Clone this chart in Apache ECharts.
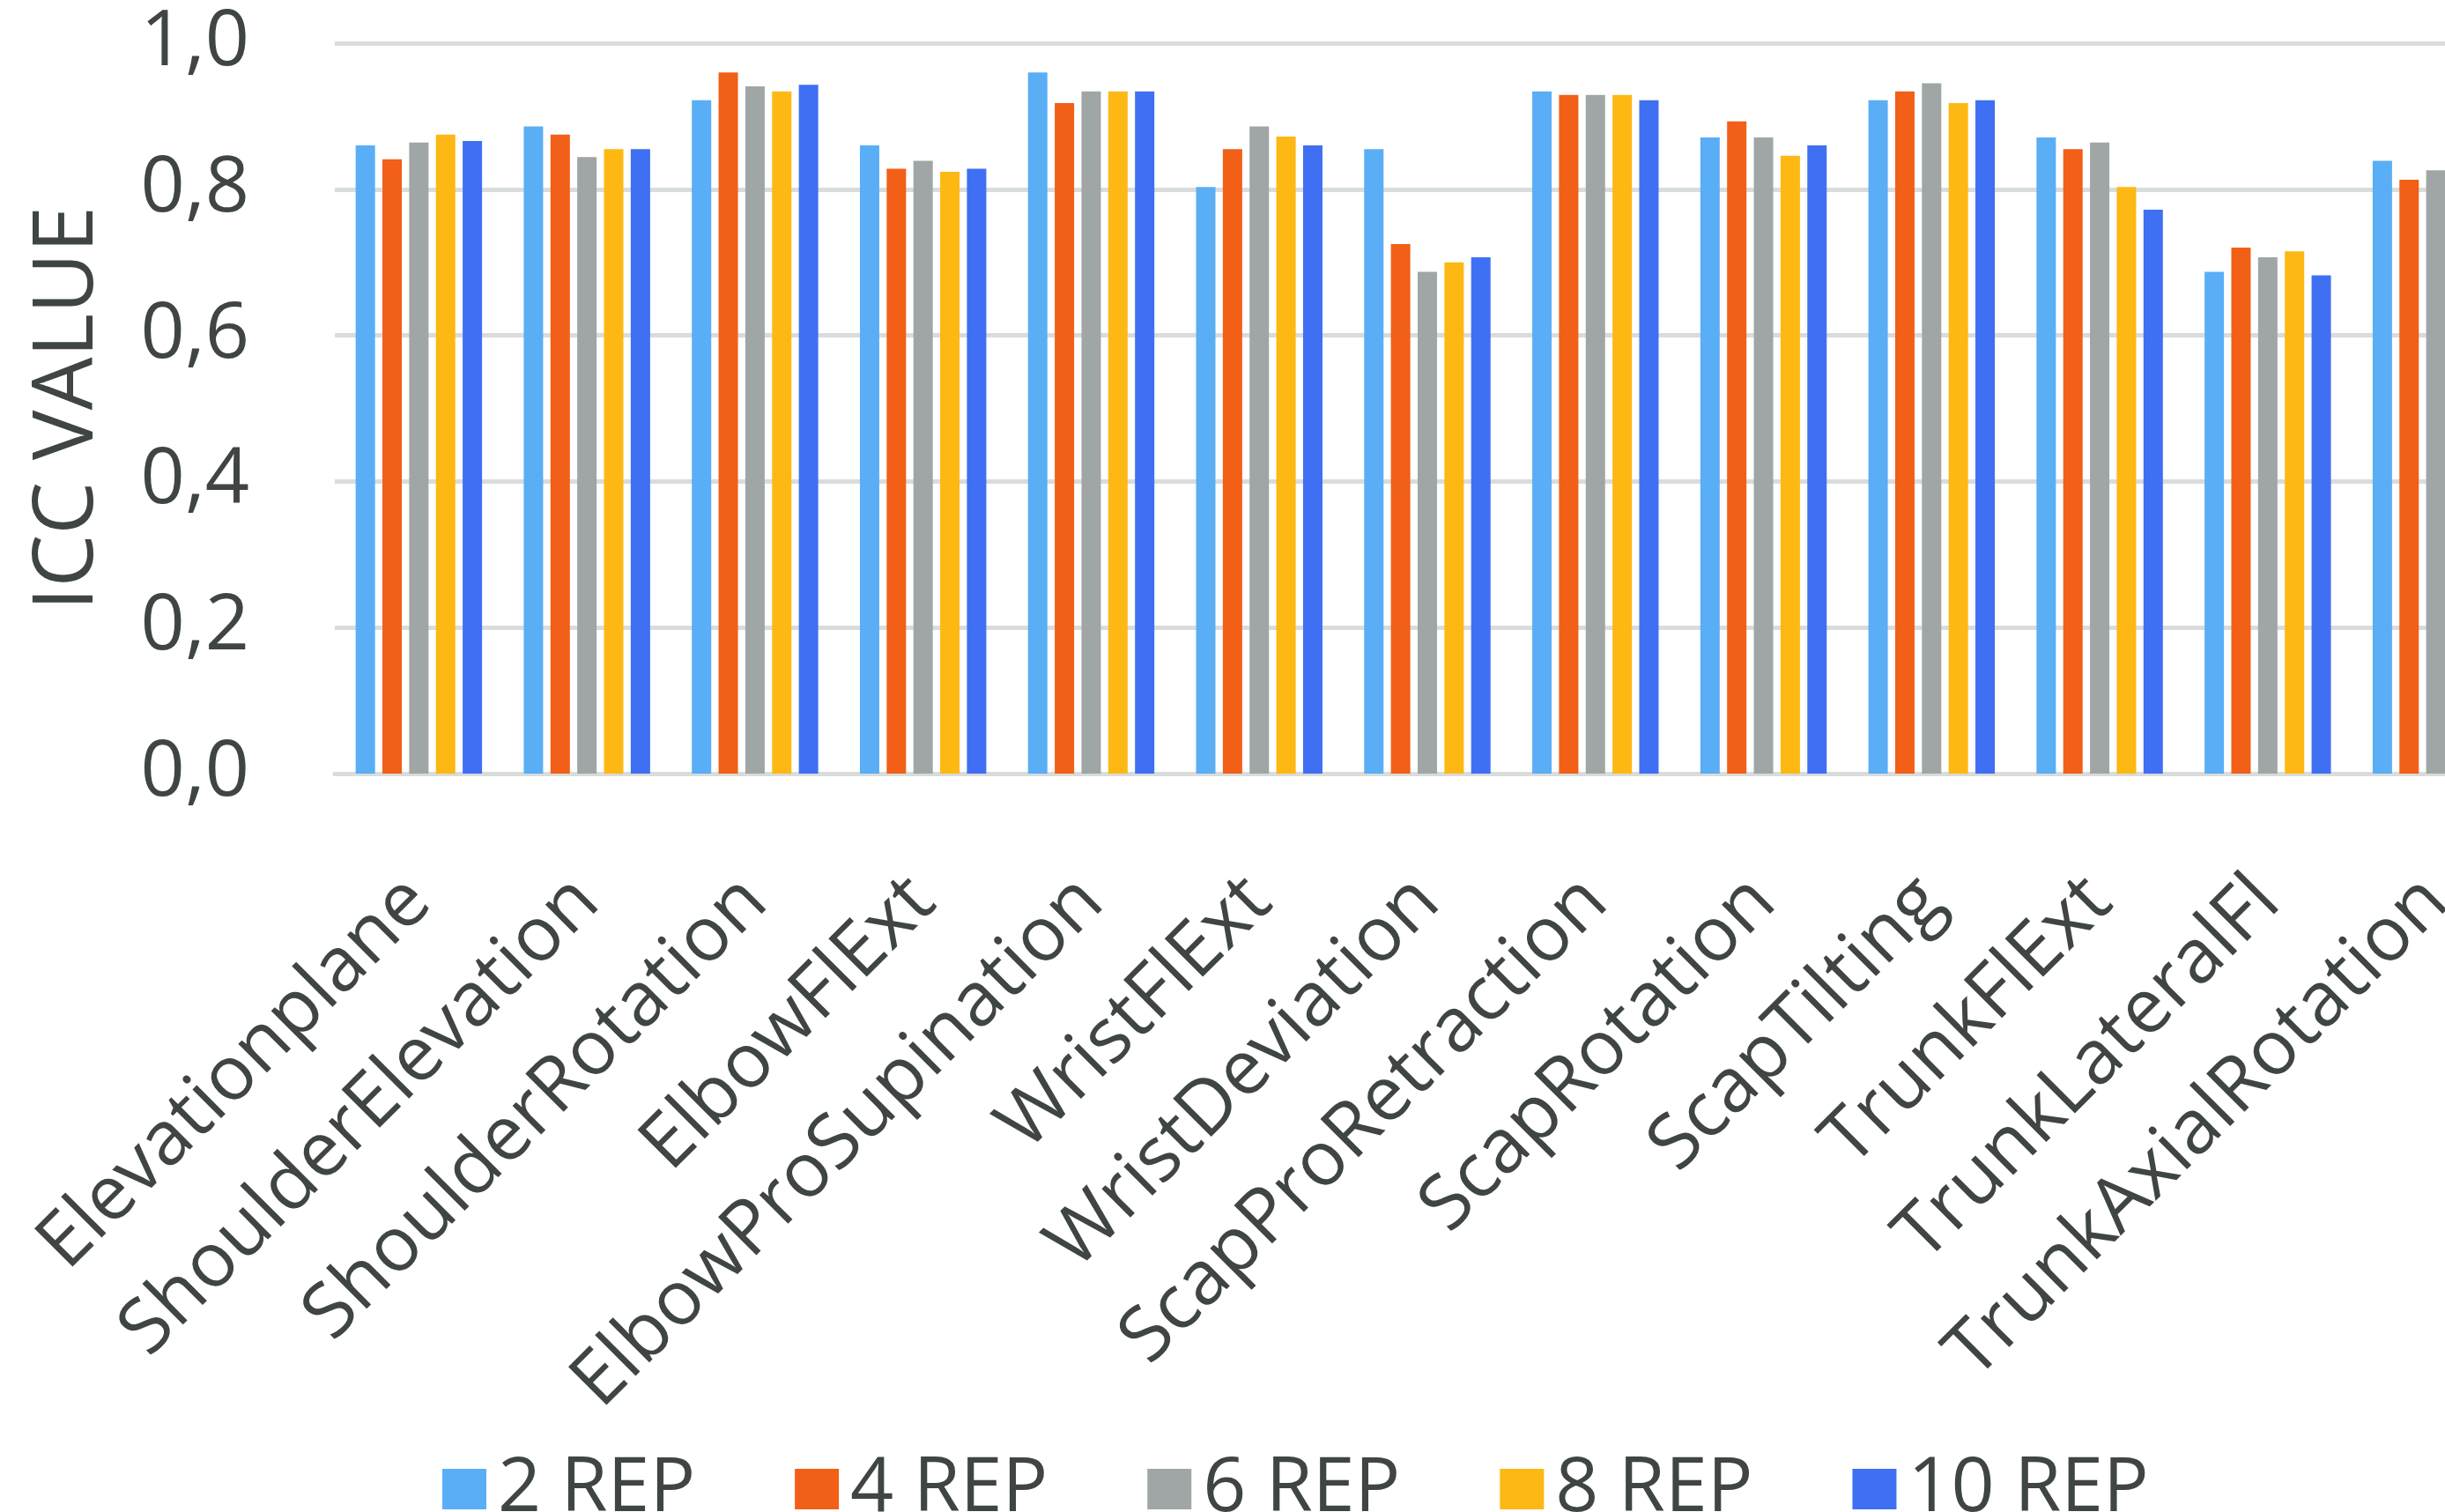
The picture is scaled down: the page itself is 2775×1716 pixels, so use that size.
<!DOCTYPE html>
<html>
<head>
<meta charset="utf-8">
<script src="https://cdn.jsdelivr.net/npm/echarts@6/dist/echarts.min.js"></script>
<style>
html,body{margin:0;padding:0;background:#fff;overflow:hidden;}
#chart{width:2775px;height:1716px;}
</style>
</head>
<body>
<div id="chart"></div>
<script>
const categories = ["Elevationplane","ShoulderElevation","ShoulderRotation","ElbowFlExt","ElbowProSupination","WristFlExt","WristDeviation","ScapProRetraction","ScapRotation","ScapTilting","TrunkFlExt","TrunkLateralFl","TrunkAxialRotation"];
const seriesNames = ["2 REP","4 REP","6 REP","8 REP","10 REP"];
const rep2  = [0.860,0.886,0.922,0.860,0.960,0.803,0.855,0.934,0.871,0.922,0.871,0.687,0.839];
const rep4  = [0.841,0.875,0.960,0.828,0.918,0.855,0.725,0.929,0.893,0.934,0.855,0.720,0.813];
const rep6  = [0.864,0.844,0.941,0.839,0.934,0.886,0.687,0.929,0.871,0.945,0.864,0.707,0.826];
const rep8  = [0.875,0.855,0.934,0.824,0.934,0.872,0.700,0.929,0.846,0.918,0.803,0.715,0.820];
const rep10 = [0.866,0.855,0.943,0.828,0.934,0.860,0.707,0.922,0.860,0.922,0.772,0.682,0.815];
const yTicks = [0,0.2,0.4,0.6,0.8,1.0];
const colors = ['#5aaef6','#f25f17','#a0a6a5','#fdb813','#3f6ff2'];
const allData = [rep2,rep4,rep6,rep8,rep10];

const textColor = '#3f4543';
const font = 'Open Sans';
const chart = echarts.init(document.getElementById('chart'));
chart.setOption({
  animation:false,
  backgroundColor:'#ffffff',
  color: colors,
  grid:{left:380,width:2480,top:49,bottom:838,containLabel:false,outerBoundsMode:'none'},
  legend:{
    data: seriesNames,
    left: 497, top: 1642,
    itemWidth: 50, itemHeight: 46, itemGap: 113,
    icon:'rect',
    textStyle:{fontFamily:font,fontSize:86,color:textColor,padding:[0,0,0,8]}
  },
  xAxis:{
    type:'category',
    data: categories,
    axisLine:{show:true,lineStyle:{color:'#d8dddb',width:5}},
    axisTick:{show:false},
    axisLabel:{rotate:45,margin:132,fontFamily:font,fontSize:86,color:textColor,interval:0}
  },
  yAxis:{
    type:'value',
    min:0,max:1,interval:0.2,
    name:'ICC VALUE',
    nameLocation:'middle',
    nameGap:255,
    nameTextStyle:{fontFamily:font,fontSize:95,color:textColor},
    axisLine:{show:false},
    axisTick:{show:false},
    splitLine:{lineStyle:{color:'#d8dddb',width:5}},
    axisLabel:{margin:97,fontFamily:font,fontSize:88,color:textColor,
      formatter:function(v){return v.toFixed(1).replace('.',',');}}
  },
  series: seriesNames.map(function(n,i){
    return {name:n,type:'bar',data:allData[i],barGap:'38%',barCategoryGap:'25%',barWidth:22};
  })
});
</script>
</body>
</html>
